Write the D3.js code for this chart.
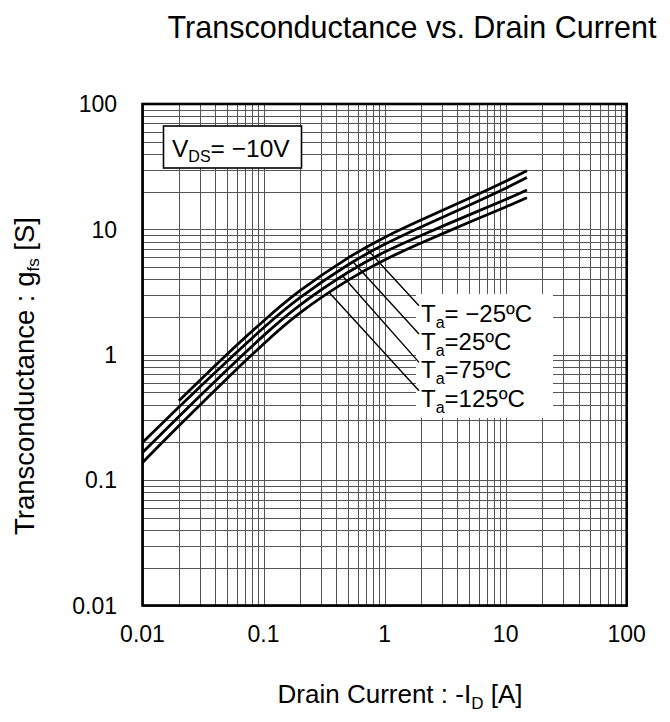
<!DOCTYPE html>
<html lang="en">
<head>
<meta charset="utf-8">
<script src="https://d3js.org/d3.v7.min.js"></script>
<style type="text/css">
body { margin: 0; background: #fff; }
text { font-family: "Liberation Sans", Arial, sans-serif; fill: #000; }
.grid line { stroke: #555; stroke-width: 1; shape-rendering: crispEdges; }
.curve { fill: none; stroke: #000; stroke-width: 2.8; }
.leader { stroke: #000; stroke-width: 1.4; }
</style>
<title>Transconductance vs. Drain Current</title>
</head>
<body>
<script type="text/javascript">
// drain current points (A)
var current = [0.01, 0.02, 0.05, 0.1, 0.2, 0.5, 1, 2, 5, 10, 15];
// gfs (S) per temperature, null = not drawn
var gfsM25 = [null, 0.43, 1.01, 1.86, 3.24, 5.93, 8.63, 11.86, 17.7, 24.2, 29.4];
var gfs25  = [0.200, 0.383, 0.889, 1.64, 2.85, 5.22, 7.60, 10.45, 15.6, 21.3, 25.9];
var gfs75  = [0.166, 0.322, 0.760, 1.42, 2.49, 4.55, 6.59, 8.93, 13.06, 17.3, 20.6];
var gfs125 = [0.138, 0.271, 0.647, 1.22, 2.16, 3.94, 5.71, 7.78, 11.38, 15.1, 17.9];
var tempLabels = ["= \u221225\u00baC", "=25\u00baC", "=75\u00baC", "=125\u00baC"];
var leaderAt = [0.7, 0.55, 0.45, 0.35];   // current where each leader meets its curve
var tickVals = [0.01, 0.1, 1, 10, 100];
var tickText = ["0.01", "0.1", "1", "10", "100"];

var series = [gfsM25, gfs25, gfs75, gfs125];

var width = 670, height = 722;
var x = d3.scaleLog().domain([0.01, 100]).range([142.5, 626.7]);
var y = d3.scaleLog().domain([0.01, 100]).range([605.5, 104]);

var svg = d3.select("body").append("svg")
    .attr("width", width)
    .attr("height", height);

// log grid
var gridVals = [];
[0.01, 0.1, 1, 10].forEach(function(d) {
  for (var k = 1; k < 10; k++) gridVals.push(d * k);
});
gridVals.push(100);

var grid = svg.append("g").attr("class", "grid");
grid.selectAll(".v").data(gridVals).enter().append("line")
  .attr("x1", function(d) { return Math.round(x(d)) + 0.5; })
  .attr("x2", function(d) { return Math.round(x(d)) + 0.5; })
  .attr("y1", y(0.01)).attr("y2", y(100));
grid.selectAll(".h").data(gridVals).enter().append("line")
  .attr("y1", function(d) { return Math.round(y(d)) + 0.5; })
  .attr("y2", function(d) { return Math.round(y(d)) + 0.5; })
  .attr("x1", x(0.01)).attr("x2", x(100));

// white patch behind temperature labels
svg.append("rect")
  .attr("x", 416).attr("y", 294)
  .attr("width", 137).attr("height", 124)
  .attr("fill", "#fff");

// VDS box
svg.append("rect")
  .attr("x", 163.5).attr("y", 126)
  .attr("width", 138).attr("height", 42)
  .attr("fill", "#fff").attr("stroke", "#000").attr("stroke-width", 1.6);
var vds = svg.append("text").attr("x", 172).attr("y", 157).style("font-size", "24.5px");
vds.append("tspan").text("V");
vds.append("tspan").attr("dy", 5).style("font-size", "16px").text("DS");
vds.append("tspan").attr("dy", -5).text("= \u221210V");

// curves
var line = d3.line()
  .defined(function(d) { return d[1] != null; })
  .x(function(d) { return x(d[0]); })
  .y(function(d) { return y(d[1]); })
  .curve(d3.curveNatural);

svg.append("g").selectAll("path")
  .data(series).enter().append("path")
  .attr("class", "curve")
  .attr("d", function(s) {
    return line(current.map(function(c, i) { return [c, s[i]]; }).filter(function(d) { return d[1] != null; }));
  });

// value on a series at a given current (log-log interpolation)
function valueAt(s, c) {
  for (var i = 0; i < current.length - 1; i++) {
    if (c >= current[i] && c <= current[i + 1] && s[i] != null) {
      var t = (Math.log10(c) - Math.log10(current[i])) / (Math.log10(current[i + 1]) - Math.log10(current[i]));
      return Math.pow(10, Math.log10(s[i]) + t * (Math.log10(s[i + 1]) - Math.log10(s[i])));
    }
  }
  return null;
}

// labels + leaders
var labelX = 421, labelY0 = 321.7, labelStep = 28.33;
series.forEach(function(s, i) {
  var by = labelY0 + i * labelStep;
  svg.append("line").attr("class", "leader")
    .attr("x1", labelX - 2).attr("y1", by - 16)
    .attr("x2", x(leaderAt[i])).attr("y2", y(valueAt(s, leaderAt[i])));
  var t = svg.append("text").attr("x", labelX).attr("y", by).style("font-size", "24px");
  t.append("tspan").text("T");
  t.append("tspan").attr("dy", 6).style("font-size", "16px").text("a");
  t.append("tspan").attr("dy", -6).text(tempLabels[i]);
});

// frame
svg.append("rect")
  .attr("x", x(0.01)).attr("y", y(100))
  .attr("width", x(100) - x(0.01)).attr("height", y(0.01) - y(100))
  .attr("fill", "none").attr("stroke", "#000").attr("stroke-width", 2.6);

// tick labels
svg.append("g").selectAll("text").data(tickVals).enter().append("text")
  .attr("x", function(d) { return x(d); })
  .attr("y", 642)
  .attr("text-anchor", "middle")
  .style("font-size", "23px")
  .text(function(d, i) { return tickText[i]; });

svg.append("g").selectAll("text").data(tickVals).enter().append("text")
  .attr("x", 117)
  .attr("y", function(d) { return y(d); })
  .attr("dy", "0.36em")
  .attr("text-anchor", "end")
  .style("font-size", "23px")
  .text(function(d, i) { return tickText[i]; });

// titles
svg.append("text")
  .attr("x", 412).attr("y", 38)
  .attr("text-anchor", "middle")
  .style("font-size", "30.5px")
  .text("Transconductance vs. Drain Current");

var xt = svg.append("text")
  .attr("x", 400).attr("y", 703)
  .attr("text-anchor", "middle")
  .style("font-size", "26px");
xt.append("tspan").text("Drain Current : -I");
xt.append("tspan").attr("dy", 6).style("font-size", "17px").text("D");
xt.append("tspan").attr("dy", -6).text(" [A]");

var yt = svg.append("text")
  .attr("transform", "translate(34,535) rotate(-90)")
  .style("font-size", "27.5px");
yt.append("tspan").text("Transconductance : g");
yt.append("tspan").attr("dy", 5).style("font-size", "17px").text("fs");
yt.append("tspan").attr("dy", -5).text(" [S]");
</script>
</body>
</html>
